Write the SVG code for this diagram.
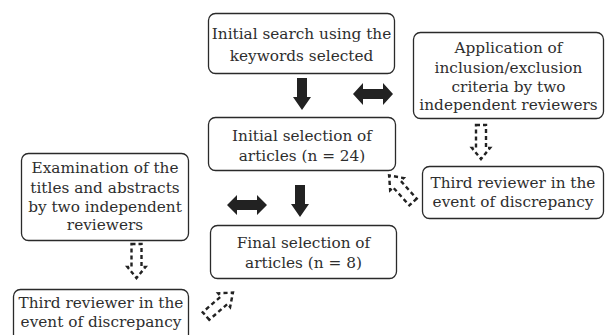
<svg xmlns="http://www.w3.org/2000/svg" width="606" height="335" viewBox="0 0 606 335">
<style>
.box{fill:#fff;stroke:#2a2a2a;stroke-width:1.3}
.t{font-family:"DejaVu Serif",serif;font-size:15.3px;fill:#2e2e2e;text-anchor:middle}
.solid{fill:#222}
.dash{fill:none;stroke:#222;stroke-width:2.4;stroke-dasharray:4 3}
</style>
<defs>
<path id="da" d="M-5,0 H5 V23 H9 L0,34 L-9,23 H-5 Z"/>
</defs>
<rect width="606" height="335" fill="#fff"/>
<g id="n1"><rect class="box" x="208.5" y="13.5" width="186" height="60" rx="7"/>
<text class="t" x="301.5" y="39">Initial search using the</text>
<text class="t" x="301.5" y="61">keywords selected</text></g>
<g id="n2"><rect class="box" x="208.5" y="117.5" width="187" height="53" rx="7"/>
<text class="t" x="302" y="141">Initial selection of</text>
<text class="t" x="302" y="161">articles (n = 24)</text></g>
<g id="n3"><rect class="box" x="413.5" y="32.5" width="190" height="86" rx="7"/>
<text class="t" x="508.5" y="53">Application of</text>
<text class="t" x="508.5" y="73">inclusion/exclusion</text>
<text class="t" x="508.5" y="92">criteria by two</text>
<text class="t" x="508.5" y="110">independent reviewers</text></g>
<g id="n4"><rect class="box" x="422.5" y="166.5" width="181" height="52" rx="7"/>
<text class="t" x="513" y="188">Third reviewer in the</text>
<text class="t" x="513" y="207">event of discrepancy</text></g>
<g id="n5"><rect class="box" x="21.5" y="153.5" width="167" height="87" rx="7"/>
<text class="t" x="105" y="173">Examination of the</text>
<text class="t" x="105" y="193">titles and abstracts</text>
<text class="t" x="105" y="212">by two independent</text>
<text class="t" x="105" y="230">reviewers</text></g>
<g id="n6"><rect class="box" x="13.5" y="289.5" width="175" height="52" rx="7"/>
<text class="t" x="101" y="308">Third reviewer in the</text>
<text class="t" x="101" y="327">event of discrepancy</text></g>
<g id="n7"><rect class="box" x="210.5" y="225.5" width="186" height="53" rx="7"/>
<text class="t" x="303.5" y="248">Final selection of</text>
<text class="t" x="303.5" y="268">articles (n = 8)</text></g>
<g id="connectors">
<path class="solid" d="M297,78 H307 V97 H311 L302,110 L293,97 H297 Z"/>
<path class="solid" d="M295,185 H305 V204 H309 L300,217 L291,204 H295 Z"/>
<path class="solid" d="M353,94 L363,83 V89 H383 V83 L393,94 L383,105 V99 H363 V105 Z"/>
<path class="solid" d="M227,205 L237,195 V200 H257 V195 L267,205 L257,215 V210 H237 V215 Z"/>
<use href="#da" class="dash" transform="translate(481,125)"/>
<use href="#da" class="dash" transform="translate(136.5,244)"/>
<use href="#da" class="dash" transform="translate(413,202) rotate(138) scale(1,1.05)"/>
<use href="#da" class="dash" transform="translate(206,316) rotate(-131) scale(1,1.05)"/>
</g>
</svg>
